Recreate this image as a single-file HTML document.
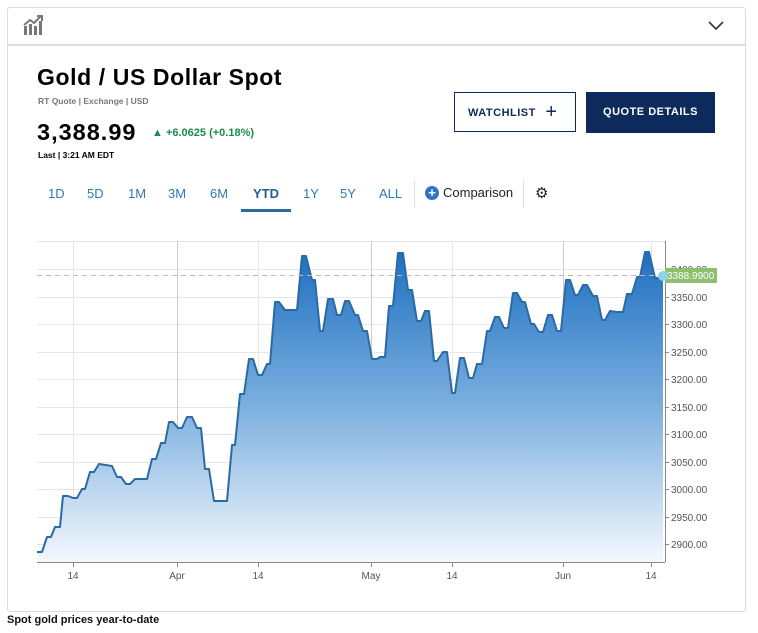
<!DOCTYPE html>
<html><head><meta charset="utf-8"><style>
body{margin:0;width:758px;height:633px;background:#fff;position:relative;font-family:"Liberation Sans",Arial,sans-serif;overflow:hidden}
.a{position:absolute;white-space:nowrap}
.tab{position:absolute;top:186px;font-size:13px;color:#2f79b5}
</style></head><body>
<div class="a" style="left:7px;top:7px;width:737px;height:603px;border:1px solid #dcdcdc;border-radius:3px"></div>
<div class="a" style="left:8px;top:44px;width:737px;height:2px;background:#ddd"></div>
<svg class="a" style="left:22px;top:14px" width="22" height="22" viewBox="0 0 22 22"><g fill="#777"><rect x="2" y="12" width="3" height="9"/><rect x="7" y="10" width="3" height="11"/><rect x="12" y="12" width="3" height="9"/><rect x="17" y="7" width="3" height="14"/></g><path d="M2 11 L8 6 L12 9 L19 2" stroke="#777" stroke-width="2" fill="none"/><path d="M15 2 H20 V7" stroke="#777" stroke-width="2" fill="none"/></svg>
<svg class="a" style="left:707px;top:19px" width="18" height="12"><path d="M2 3 L9 10 L16 3" stroke="#333" stroke-width="1.6" fill="none"/></svg>
<div class="a" style="left:37px;top:64px;font-size:23px;font-weight:900;color:#000;letter-spacing:0.6px">Gold / US Dollar Spot</div>
<div class="a" style="left:38px;top:96px;font-size:8.5px;font-weight:bold;color:#777">RT Quote | Exchange | USD</div>
<div class="a" style="left:37px;top:119px;font-size:23.5px;font-weight:900;color:#000;letter-spacing:1px">3,388.99</div>
<div class="a" style="left:152px;top:127px;font-size:11px;font-weight:bold;color:#1b8a4e">▲ +6.0625 (+0.18%)</div>
<div class="a" style="left:38px;top:150px;font-size:8.5px;font-weight:bold;color:#000">Last | 3:21 AM EDT</div>
<div class="a" style="left:454px;top:92px;width:122px;height:40px;border:1px solid #0c2a5b;box-sizing:border-box;color:#0c2a5b;font-size:11px;font-weight:bold;letter-spacing:.5px;line-height:38px;padding-left:13px">WATCHLIST <span style="font-size:20px;font-weight:normal;vertical-align:-2px;margin-left:6px">+</span></div>
<div class="a" style="left:586px;top:92px;width:129px;height:41px;background:#0c2a5b;color:#fff;font-size:11px;font-weight:bold;letter-spacing:.5px;line-height:41px;text-align:center">QUOTE DETAILS</div>
<div class="tab" style="left:48px">1D</div><div class="tab" style="left:87px">5D</div><div class="tab" style="left:128px">1M</div><div class="tab" style="left:168px">3M</div><div class="tab" style="left:210px">6M</div>
<div class="tab" style="left:253px;font-weight:bold;color:#1f5f92">YTD</div>
<div class="a" style="left:241px;top:209px;width:50px;height:3px;background:#2e6a9a"></div>
<div class="tab" style="left:303px">1Y</div><div class="tab" style="left:340px">5Y</div><div class="tab" style="left:379px">ALL</div>
<div class="a" style="left:414px;top:181px;width:1px;height:26px;background:#ddd"></div>
<div class="a" style="left:425px;top:186px;width:14px;height:14px;border-radius:50%;background:#2e76c4;color:#fff;font-size:13px;line-height:13px;text-align:center;font-weight:bold">+</div>
<div class="a" style="left:443px;top:185px;font-size:13px;color:#222">Comparison</div>
<div class="a" style="left:523px;top:181px;width:1px;height:26px;background:#ddd"></div>
<div class="a" style="left:535px;top:184px;font-size:15px;color:#222">⚙</div>
<svg class="a" style="left:0;top:0" width="758" height="633">
<defs><linearGradient id="g" x1="0" y1="245" x2="0" y2="562" gradientUnits="userSpaceOnUse"><stop offset="0" stop-color="#1a6dc0"/><stop offset="0.5" stop-color="#7aaede"/><stop offset="1" stop-color="#f4f8fd"/></linearGradient></defs>
<g stroke="#e6e6e6" stroke-width="1">
<line x1="37" x2="665" y1="241.5" y2="241.5"/><line x1="37" x2="665" y1="269.5" y2="269.5"/><line x1="37" x2="665" y1="297.5" y2="297.5"/><line x1="37" x2="665" y1="324.5" y2="324.5"/><line x1="37" x2="665" y1="352.5" y2="352.5"/><line x1="37" x2="665" y1="379.5" y2="379.5"/><line x1="37" x2="665" y1="407.5" y2="407.5"/><line x1="37" x2="665" y1="434.5" y2="434.5"/><line x1="37" x2="665" y1="462.5" y2="462.5"/><line x1="37" x2="665" y1="489.5" y2="489.5"/><line x1="37" x2="665" y1="517.5" y2="517.5"/><line x1="37" x2="665" y1="544.5" y2="544.5"/>
<line x1="73.5" x2="73.5" y1="241" y2="562"/><line x1="258.5" x2="258.5" y1="241" y2="562"/><line x1="452.5" x2="452.5" y1="241" y2="562"/><line x1="651.5" x2="651.5" y1="241" y2="562"/>
</g>
<g stroke="#ccc"><line x1="177.5" x2="177.5" y1="241" y2="562"/><line x1="371.5" x2="371.5" y1="241" y2="562"/><line x1="563.5" x2="563.5" y1="241" y2="562"/></g>
<polygon fill="url(#g)" points="37,562 37,552 42,552 47,537 51,537 55,527 60,527 63,496 68,496 73,498 77,498 82,489 85,489 90,472 94,472 99,464 112,466 117,477 121,477 126,484 130,484 135,479 147,479 152,459 156,459 161,443 165,443 169,422 173,422 178,428 182,428 187,417 192,417 197,428 201,428 205,469 209,469 214,501 227,501 232,445 235,445 240,394 244,394 249,359 253,359 258,375 262,375 267,364 270,364 275,302 279,302 285,310 297,310 302,256 306,256 312,280 315,280 320,331 323,331 328,299 333,299 337,315 341,315 345,301 349,301 355,315 358,315 363,331 367,331 372,359 377,359 380,357 385,357 389,306 393,306 398,253 403,253 408,290 412,290 417,321 421,321 425,311 429,311 434,361 437,361 443,352 447,352 452,393 455,393 460,358 464,358 469,378 473,378 477,364 482,364 487,331 490,331 495,317 499,317 504,328 508,328 513,293 517,293 522,302 525,302 531,324 534,324 539,332 543,332 548,315 552,315 557,331 561,331 566,280 570,280 575,295 578,295 583,285 587,285 593,296 597,296 602,320 605,320 610,311 617,312 623,312 627,294 632,294 637,277 640,277 645,252 649,252 655,278 659,278 663,276 663,562"/>
<polyline fill="none" stroke="#2b6aa3" stroke-width="2" stroke-linejoin="round" points="37,552 42,552 47,537 51,537 55,527 60,527 63,496 68,496 73,498 77,498 82,489 85,489 90,472 94,472 99,464 112,466 117,477 121,477 126,484 130,484 135,479 147,479 152,459 156,459 161,443 165,443 169,422 173,422 178,428 182,428 187,417 192,417 197,428 201,428 205,469 209,469 214,501 227,501 232,445 235,445 240,394 244,394 249,359 253,359 258,375 262,375 267,364 270,364 275,302 279,302 285,310 297,310 302,256 306,256 312,280 315,280 320,331 323,331 328,299 333,299 337,315 341,315 345,301 349,301 355,315 358,315 363,331 367,331 372,359 377,359 380,357 385,357 389,306 393,306 398,253 403,253 408,290 412,290 417,321 421,321 425,311 429,311 434,361 437,361 443,352 447,352 452,393 455,393 460,358 464,358 469,378 473,378 477,364 482,364 487,331 490,331 495,317 499,317 504,328 508,328 513,293 517,293 522,302 525,302 531,324 534,324 539,332 543,332 548,315 552,315 557,331 561,331 566,280 570,280 575,295 578,295 583,285 587,285 593,296 597,296 602,320 605,320 610,311 617,312 623,312 627,294 632,294 637,277 640,277 645,252 649,252 655,278 659,278 663,276"/>
<line x1="37" x2="665" y1="275.5" y2="275.5" stroke="#bbb" stroke-dasharray="5,4"/>
<line x1="37" x2="665" y1="562.5" y2="562.5" stroke="#888"/>
<line x1="665.5" x2="665.5" y1="241" y2="562" stroke="#888"/>
<g stroke="#888"><line x1="73.5" x2="73.5" y1="562" y2="567"/><line x1="177.5" x2="177.5" y1="562" y2="567"/><line x1="258.5" x2="258.5" y1="562" y2="567"/><line x1="371.5" x2="371.5" y1="562" y2="567"/><line x1="452.5" x2="452.5" y1="562" y2="567"/><line x1="563.5" x2="563.5" y1="562" y2="567"/><line x1="651.5" x2="651.5" y1="562" y2="567"/>
<line x1="665" x2="669" y1="297.5" y2="297.5"/><line x1="665" x2="669" y1="324.5" y2="324.5"/><line x1="665" x2="669" y1="352.5" y2="352.5"/><line x1="665" x2="669" y1="379.5" y2="379.5"/><line x1="665" x2="669" y1="407.5" y2="407.5"/><line x1="665" x2="669" y1="434.5" y2="434.5"/><line x1="665" x2="669" y1="462.5" y2="462.5"/><line x1="665" x2="669" y1="489.5" y2="489.5"/><line x1="665" x2="669" y1="517.5" y2="517.5"/><line x1="665" x2="669" y1="544.5" y2="544.5"/></g>
<g font-family="Liberation Sans,Arial,sans-serif" font-size="10" fill="#555">
<text x="671" y="273">3400.00</text>
<text x="671" y="301">3350.00</text><text x="671" y="328">3300.00</text><text x="671" y="356">3250.00</text><text x="671" y="383">3200.00</text><text x="671" y="411">3150.00</text><text x="671" y="438">3100.00</text><text x="671" y="466">3050.00</text><text x="671" y="493">3000.00</text><text x="671" y="521">2950.00</text><text x="671" y="548">2900.00</text>
<g text-anchor="middle"><text x="73" y="579">14</text><text x="177" y="579">Apr</text><text x="258" y="579">14</text><text x="371" y="579">May</text><text x="452" y="579">14</text><text x="563" y="579">Jun</text><text x="651" y="579">14</text></g>
</g>
<rect x="665" y="268" width="52" height="15" fill="#8cc06f"/>
<text x="667" y="279" font-family="Liberation Sans,Arial,sans-serif" font-size="10" fill="#fff">3388.9900</text>
<circle cx="663" cy="276" r="5" fill="#8fd3ef"/>
</svg>
<div class="a" style="left:7px;top:614px;font-size:11px;font-weight:bold;color:#111">Spot gold prices year-to-date</div>
</body></html>
